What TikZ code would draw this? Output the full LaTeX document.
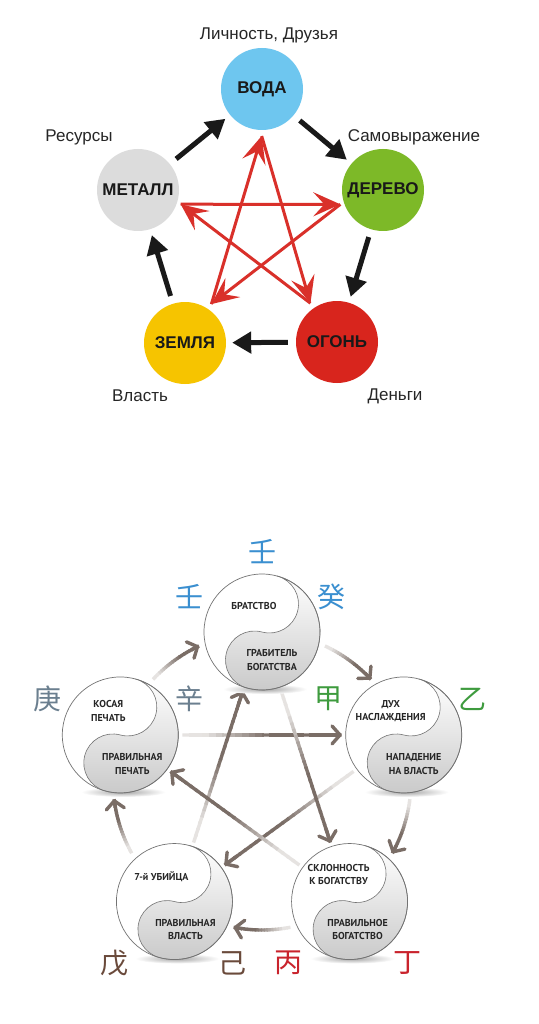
\documentclass[tikz,border=0pt]{standalone}
\usepackage{fontspec}
\setmainfont{Liberation Sans}
\newfontfamily\ptsans{PT Sans}
\newfontfamily\cjk{Noto Sans CJK SC}
\usetikzlibrary{arrows.meta,calc}
\definecolor{cwater}{HTML}{6EC6EF}
\definecolor{cwood}{HTML}{7DB928}
\definecolor{cfire}{HTML}{D8251D}
\definecolor{cearth}{HTML}{F6C400}
\definecolor{cmetal}{HTML}{DCDCDC}
\definecolor{cred}{HTML}{D9302A}
\definecolor{arrc}{HTML}{7A6D66}
\definecolor{fadec}{HTML}{E6E3E1}
\definecolor{cblue}{HTML}{3A8FD0}
\definecolor{cslate}{HTML}{6B7F8F}
\definecolor{cgreen}{HTML}{3E9B3E}
\definecolor{cbrown}{HTML}{6A4A3B}
\definecolor{ccred}{HTML}{C9232C}
\tikzset{
  elem/.style={circle, minimum size=82pt, inner sep=0pt, font=\fontsize{17}{17}\selectfont\bfseries, text=black!90},
  lbl/.style={font=\fontsize{17}{17}\selectfont, text=black!85, inner sep=0pt},
  blk/.style={draw=black!90, line width=5pt, -{Triangle[length=19pt,width=21pt]}, shorten <=8pt, shorten >=6pt},
  redarr/.style={draw=cred, line width=3pt, -{Stealth[length=27pt,width=24pt,inset=11pt]}},
  ycirc/.style={circle, minimum size=116pt, inner sep=0pt},
  fadeline/.style={line width=3.4pt},
  barbtip/.style={-{Straight Barb[length=8pt,width=18pt,round]}},
  yt/.style={font=\ptsans\bfseries\fontsize{10}{13.5}\selectfont, align=center, text=black!85, inner sep=0pt},
  cj/.style={font=\cjk\fontsize{28}{28}\selectfont, inner sep=0pt},
  yinyang/.pic={
    \shade[inner color=black!35, outer color=white] (3,-57) ellipse (42 and 5);
    \fill[white] (0,0) circle (58);
    \begin{scope}[rotate=-15]
      \shadedraw[top color=white, bottom color=black!22, draw=black!55, line width=0.6pt]
        (0,58) arc[start angle=90, end angle=-90, radius=58]
        arc[start angle=-90, end angle=-270, radius=29]
        arc[start angle=-90, end angle=90, radius=29] -- cycle;
    \end{scope}
    \draw[black!55, line width=0.7pt] (0,0) circle (58);
  }
}
\newcommand\fadeArc[2]{%
  \foreach \i in {0,...,19}{%
    \pgfmathsetmacro\angA{#1+(#2-#1)*\i/20}%
    \pgfmathsetmacro\angB{#1+(#2-#1)*min(1,(\i+1.3)/20)}%
    \pgfmathsetmacro\pcx{min(100,max(0,(\i/20-0.1)*200))}%
    \draw[fadeline, draw=arrc!\pcx!fadec] ($(C2)+(\angA:149)$) arc[start angle=\angA, end angle=\angB, radius=149];
  }%
  \pgfmathsetmacro\angH{#2-(#2-#1)*0.15}%
  \draw[fadeline, draw=arrc, barbtip] ($(C2)+(\angH:149)$) arc[start angle=\angH, end angle=#2, radius=149];
}
\newcommand\fadeLine[2]{%
  \coordinate (fS) at ($(#1)!62pt!(#2)$);
  \coordinate (fE) at ($(#2)!62pt!(#1)$);
  \foreach \i in {0,...,23}{%
    \pgfmathsetmacro\ta{\i/24}%
    \pgfmathsetmacro\tb{min(1,(\i+1.3)/24)}%
    \pgfmathsetmacro\pcx{min(100,max(0,(\i/24-0.12)*250))}%
    \draw[fadeline, draw=arrc!\pcx!fadec] ($(fS)!\ta!(fE)$) -- ($(fS)!\tb!(fE)$);
  }%
  \draw[fadeline, draw=arrc, barbtip] ($(fS)!0.9!(fE)$) -- (fE);
}
\begin{document}
\begin{tikzpicture}[x=1pt,y=1pt]
\useasboundingbox (0,0) rectangle (538,-1024);
\fill[white] (0,0) rectangle (538,-1024);

% ---------- top diagram ----------
\node[elem, fill=cwater] (V) at (262,-89) {ВОДА};
\node[elem, fill=cwood]  (D) at (383,-190) {ДЕРЕВО};
\node[elem, fill=cfire]  (O) at (337,-342) {ОГОНЬ};
\node[elem, fill=cearth] (Z) at (185,-343) {ЗЕМЛЯ};
\node[elem, fill=cmetal] (M) at (138,-190) {МЕТАЛЛ};

\node[lbl] (lV) at (269,-35) {Личность, Друзья};
\node[lbl] (lM) at (79,-137) {Ресурсы};
\node[lbl] (lD) at (414,-137) {Самовыражение};
\node[lbl] (lZ) at (140,-396) {Власть};
\node[lbl] (lO) at (395,-396) {Деньги};

\draw[blk] (M) -- (V);
\draw[blk] (V) -- (D);
\draw[blk] (D) -- (O);
\draw[blk] (O) -- (Z);
\draw[blk] (Z) -- (M);

\coordinate (C1) at (261,-231);
\coordinate (vV) at ($(V)!47pt!(C1)$);
\coordinate (vD) at ($(D)!45pt!(C1)$);
\coordinate (vO) at ($(O)!47pt!(C1)$);
\coordinate (vZ) at ($(Z)!47pt!(C1)$);
\coordinate (vM) at ($(M)!45pt!(C1)$);
\draw[redarr] (vM) -- (vD);
\draw[redarr] (vD) -- (vZ);
\draw[redarr] (vZ) -- (vV);
\draw[redarr] (vV) -- (vO);
\draw[redarr] (vO) -- (vM);

% ---------- bottom diagram ----------
\coordinate (C2) at (262,-781);
\foreach \n/\a in {T/90,R/18,BR/-54,BL/-126,L/162}{
  \node[ycirc] (\n) at ($(C2)+(\a:149)$) {};
}

\fadeArc{137}{115}
\fadeArc{65}{43}
\fadeArc{-7}{-29}
\fadeArc{-79}{-101}
\fadeArc{-151}{-173}

\fadeLine{L}{R}
\fadeLine{R}{BL}
\fadeLine{BL}{T}
\fadeLine{T}{BR}
\fadeLine{BR}{L}

\foreach \n in {T,R,BR,BL,L}{
  \pic at (\n) {yinyang};
}

\node[yt] (Tu) at ($(T)+(-8,26)$) {БРАТСТВО};
\node[yt] (Td) at ($(T)+(10,-28)$) {ГРАБИТЕЛЬ\\БОГАТСТВА};
\node[yt] (Lu) at ($(L)+(-12,24)$) {КОСАЯ\\ПЕЧАТЬ};
\node[yt] (Ld) at ($(L)+(12,-29)$) {ПРАВИЛЬНАЯ\\ПЕЧАТЬ};
\node[yt] (Ru) at ($(R)+(-13,24)$) {ДУХ\\НАСЛАЖДЕНИЯ};
\node[yt] (Rd) at ($(R)+(10,-29)$) {НАПАДЕНИЕ\\НА ВЛАСТЬ};
\node[yt] (BRu) at ($(BR)+(-11,27)$) {СКЛОННОСТЬ\\К БОГАТСТВУ};
\node[yt] (BRd) at ($(BR)+(8,-28)$) {ПРАВИЛЬНОЕ\\БОГАТСТВО};
\node[yt] (BLu) at ($(BL)+(-13,25)$) {7-й УБИЙЦА};
\node[yt] (BLd) at ($(BL)+(11,-28)$) {ПРАВИЛЬНАЯ\\ВЛАСТЬ};

\node[cj, text=cblue]  (k1) at (262,-552) {壬};
\node[cj, text=cblue]  (k2) at (189,-597) {壬};
\node[cj, text=cblue]  (k3) at (331,-597) {癸};
\node[cj, text=cslate] (k4) at (47,-699) {庚};
\node[cj, text=cslate] (k5) at (189,-699) {辛};
\node[cj, text=cgreen] (k6) at (328,-699) {甲};
\node[cj, text=cgreen] (k7) at (472,-699) {乙};
\node[cj, text=cbrown] (k8) at (114,-963) {戊};
\node[cj, text=cbrown] (k9) at (232,-963) {己};
\node[cj, text=ccred]  (k10) at (288,-963) {丙};
\node[cj, text=ccred]  (k11) at (407,-963) {丁};
\end{tikzpicture}
\end{document}
